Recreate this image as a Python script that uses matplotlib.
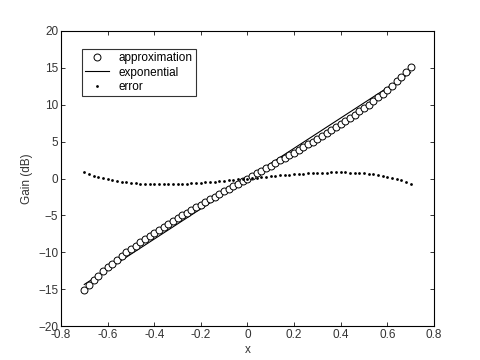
import numpy as np
import matplotlib.pyplot as plt

plt.rcParams['font.family'] = ['Liberation Sans', 'DejaVu Sans']

# Values (x from -0.7 to 0.7 in steps of 0.02)
x_vals = np.round(np.arange(-0.70, 0.7001, 0.02), 2)

# approximation (dB), positive half x = 0.00 ... 0.70
approx_pos = [0.0, 0.35, 0.70, 1.04, 1.39, 1.74, 2.09, 2.45, 2.80, 3.16,
              3.52, 3.89, 4.25, 4.62, 5.00, 5.38, 5.76, 6.15, 6.55, 6.95,
              7.36, 7.78, 8.20, 8.64, 9.09, 9.54, 10.01, 10.50, 10.99, 11.51,
              12.04, 12.59, 13.17, 13.77, 14.40, 15.07]
# exponential (dB), positive half
expo_pos = [0.0, 0.41, 0.82, 1.23, 1.64, 2.05, 2.46, 2.87, 3.28, 3.69,
            4.10, 4.51, 4.92, 5.33, 5.74, 6.15, 6.56, 6.97, 7.38, 7.79,
            8.20, 8.61, 9.02, 9.43, 9.84, 10.25, 10.66, 11.07, 11.48, 11.89,
            12.30, 12.71, 13.12, 13.53, 13.94, 14.35]
# error (dB), negative half x = -0.70 ... -0.02
error_neg = [0.90, 0.60, 0.38, 0.18, 0.02, -0.11, -0.24, -0.34, -0.43, -0.51,
             -0.57, -0.65, -0.71, -0.75, -0.78, -0.80, -0.80, -0.80, -0.79, -0.78,
             -0.76, -0.73, -0.70, -0.66, -0.62, -0.57, -0.52, -0.47, -0.42, -0.36,
             -0.30, -0.25, -0.19, -0.12, -0.06]
# error (dB), positive half x = 0.00 ... 0.70
error_pos = [0.0, 0.06, 0.12, 0.19, 0.25, 0.31, 0.37, 0.42, 0.48, 0.53,
             0.58, 0.62, 0.67, 0.71, 0.74, 0.77, 0.80, 0.82, 0.83, 0.84,
             0.84, 0.83, 0.82, 0.79, 0.75, 0.71, 0.65, 0.57, 0.49, 0.38,
             0.26, 0.12, -0.05, -0.24, -0.46, -0.74]

approx = [-v for v in approx_pos[:0:-1]] + approx_pos
expo = [-v for v in expo_pos[:0:-1]] + expo_pos
error = error_neg + error_pos

fig = plt.figure(figsize=(4.8, 3.6), dpi=100)
ax = fig.add_axes([0.127, 0.094, 0.777, 0.820])

ax.plot(x_vals, approx, 'o', mfc='white', mec='black', ms=5, mew=0.7,
        label='approximation', zorder=3)
ax.plot(x_vals, expo, '-', color='black', lw=0.8, label='exponential', zorder=2)
ax.plot(x_vals, error, 'o', color='black', ms=2, mew=0, label='error', zorder=4)

ax.set_xlim(-0.8, 0.8)
ax.set_ylim(-20, 20)
ax.set_xticks(np.arange(-0.8, 0.81, 0.2))
ax.set_xticklabels(['-0.8', '-0.6', '-0.4', '-0.2', '0', '0.2', '0.4', '0.6', '0.8'])
ax.set_yticks(np.arange(-20, 21, 5))
ax.tick_params(direction='in', top=True, right=True, length=3, width=0.7,
               labelsize=8.5, colors='#333333', pad=2)
for s in ax.spines.values():
    s.set_linewidth(0.8)
ax.set_xlabel('x', fontsize=8.5, color='#333333', labelpad=2)
ax.set_ylabel('Gain (dB)', fontsize=8.5, color='#333333', labelpad=4)

leg = ax.legend(loc='upper left', bbox_to_anchor=(0.056, 0.94), fontsize=8.5,
                frameon=True, fancybox=False, edgecolor='black',
                borderaxespad=0, handlelength=2.0, borderpad=0.3,
                labelspacing=0.2, handletextpad=0.8)
leg.get_frame().set_linewidth(0.8)

fig.savefig('out.png', dpi=100)
